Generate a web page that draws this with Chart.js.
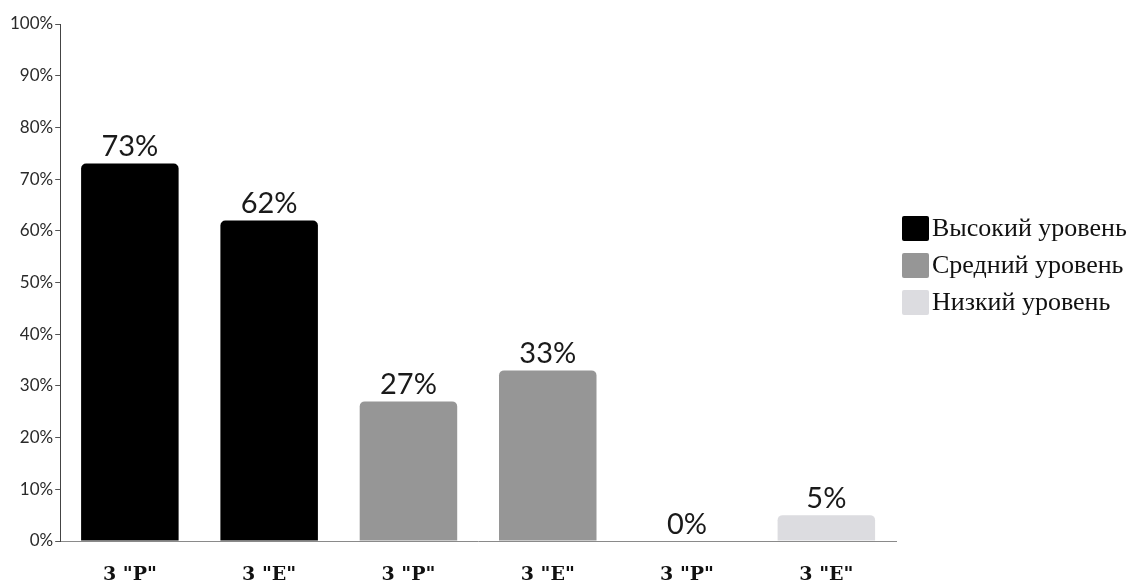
<!DOCTYPE html>
<html>
<head>
<meta charset="utf-8">
<script src="https://cdn.jsdelivr.net/npm/chart.js@4"></script>
<style>
html,body{margin:0;padding:0;background:#fff;}
#wrap{width:1129px;height:584px;position:relative;}
</style>
</head>
<body>
<div id="wrap"><canvas id="c" width="1129" height="584"></canvas></div>
<script>
const categories = ['3 "Р"', '3 "Е"', '3 "Р"', '3 "Е"', '3 "Р"', '3 "Е"'];
const seriesNames = ['Высокий уровень', 'Средний уровень', 'Низкий уровень'];
const highValues = [73, 62, null, null, null, null];
const midValues = [null, null, 27, 33, null, null];
const lowValues = [null, null, null, null, 0, 5];
const seriesColors = ['#000000', '#969696', '#dcdce0'];
const yTicks = [0, 10, 20, 30, 40, 50, 60, 70, 80, 90, 100];

const valueLabels = {
  id: 'valueLabels',
  afterDatasetsDraw(chart) {
    const ctx = chart.ctx;
    ctx.save();
    ctx.font = '29px Lato';
    ctx.fillStyle = '#1a1a1a';
    ctx.textAlign = 'center';
    ctx.textBaseline = 'bottom';
    chart.data.datasets.forEach((ds, di) => {
      const meta = chart.getDatasetMeta(di);
      meta.data.forEach((el, i) => {
        const v = ds.data[i];
        if (v === null || v === undefined) return;
        ctx.fillText(v + '%', el.x, el.y - 2);
      });
    });
    ctx.restore();
  }
};

const sideLegend = {
  id: 'sideLegend',
  afterDraw(chart) {
    const ctx = chart.ctx;
    ctx.save();
    ctx.font = '26px "Liberation Serif"';
    ctx.textBaseline = 'middle';
    ctx.textAlign = 'left';
    const x = 902, y0 = 228, step = 37;
    chart.data.datasets.forEach((ds, i) => {
      const cy = y0 + i * step;
      ctx.fillStyle = ds.backgroundColor;
      ctx.beginPath();
      ctx.roundRect(x, cy - 12, 27, 25, 2);
      ctx.fill();
      ctx.fillStyle = '#111';
      ctx.fillText(ds.label, x + 30, cy + 1);
    });
    ctx.restore();
  }
};

new Chart(document.getElementById('c'), {
  type: 'bar',
  data: {
    labels: categories,
    datasets: [
      { label: seriesNames[0], data: highValues, backgroundColor: seriesColors[0] },
      { label: seriesNames[1], data: midValues, backgroundColor: seriesColors[1] },
      { label: seriesNames[2], data: lowValues, backgroundColor: seriesColors[2] }
    ]
  },
  options: {
    responsive: false,
    animation: false,
    devicePixelRatio: 1,
    layout: { padding: { left: 8, right: 233, top: 24, bottom: 0 } },
    datasets: { bar: { skipNull: true, categoryPercentage: 1, barPercentage: 0.7, borderRadius: 5, borderSkipped: 'start' } },
    plugins: { legend: { display: false }, tooltip: { enabled: false } },
    scales: {
      x: {
        grid: { display: false },
        border: { display: true, color: '#8a8a8a', width: 1 },
        ticks: { font: { family: '"DejaVu Serif"', size: 19, weight: 'bold' }, color: '#111', padding: 15 },
        afterFit(scale) { scale.height = 43; }
      },
      y: {
        min: 0, max: 100,
        afterBuildTicks(scale) { scale.ticks = yTicks.map(v => ({ value: v })); },
        grid: { drawOnChartArea: false, drawTicks: true, tickLength: 5, color: '#555' },
        border: { display: true, color: '#444', width: 1 },
        ticks: { font: { family: 'Lato', size: 17 }, color: '#2a2a2a', padding: 2, callback: v => v + '%' }
      }
    }
  },
  plugins: [valueLabels, sideLegend]
});
</script>
</body>
</html>
